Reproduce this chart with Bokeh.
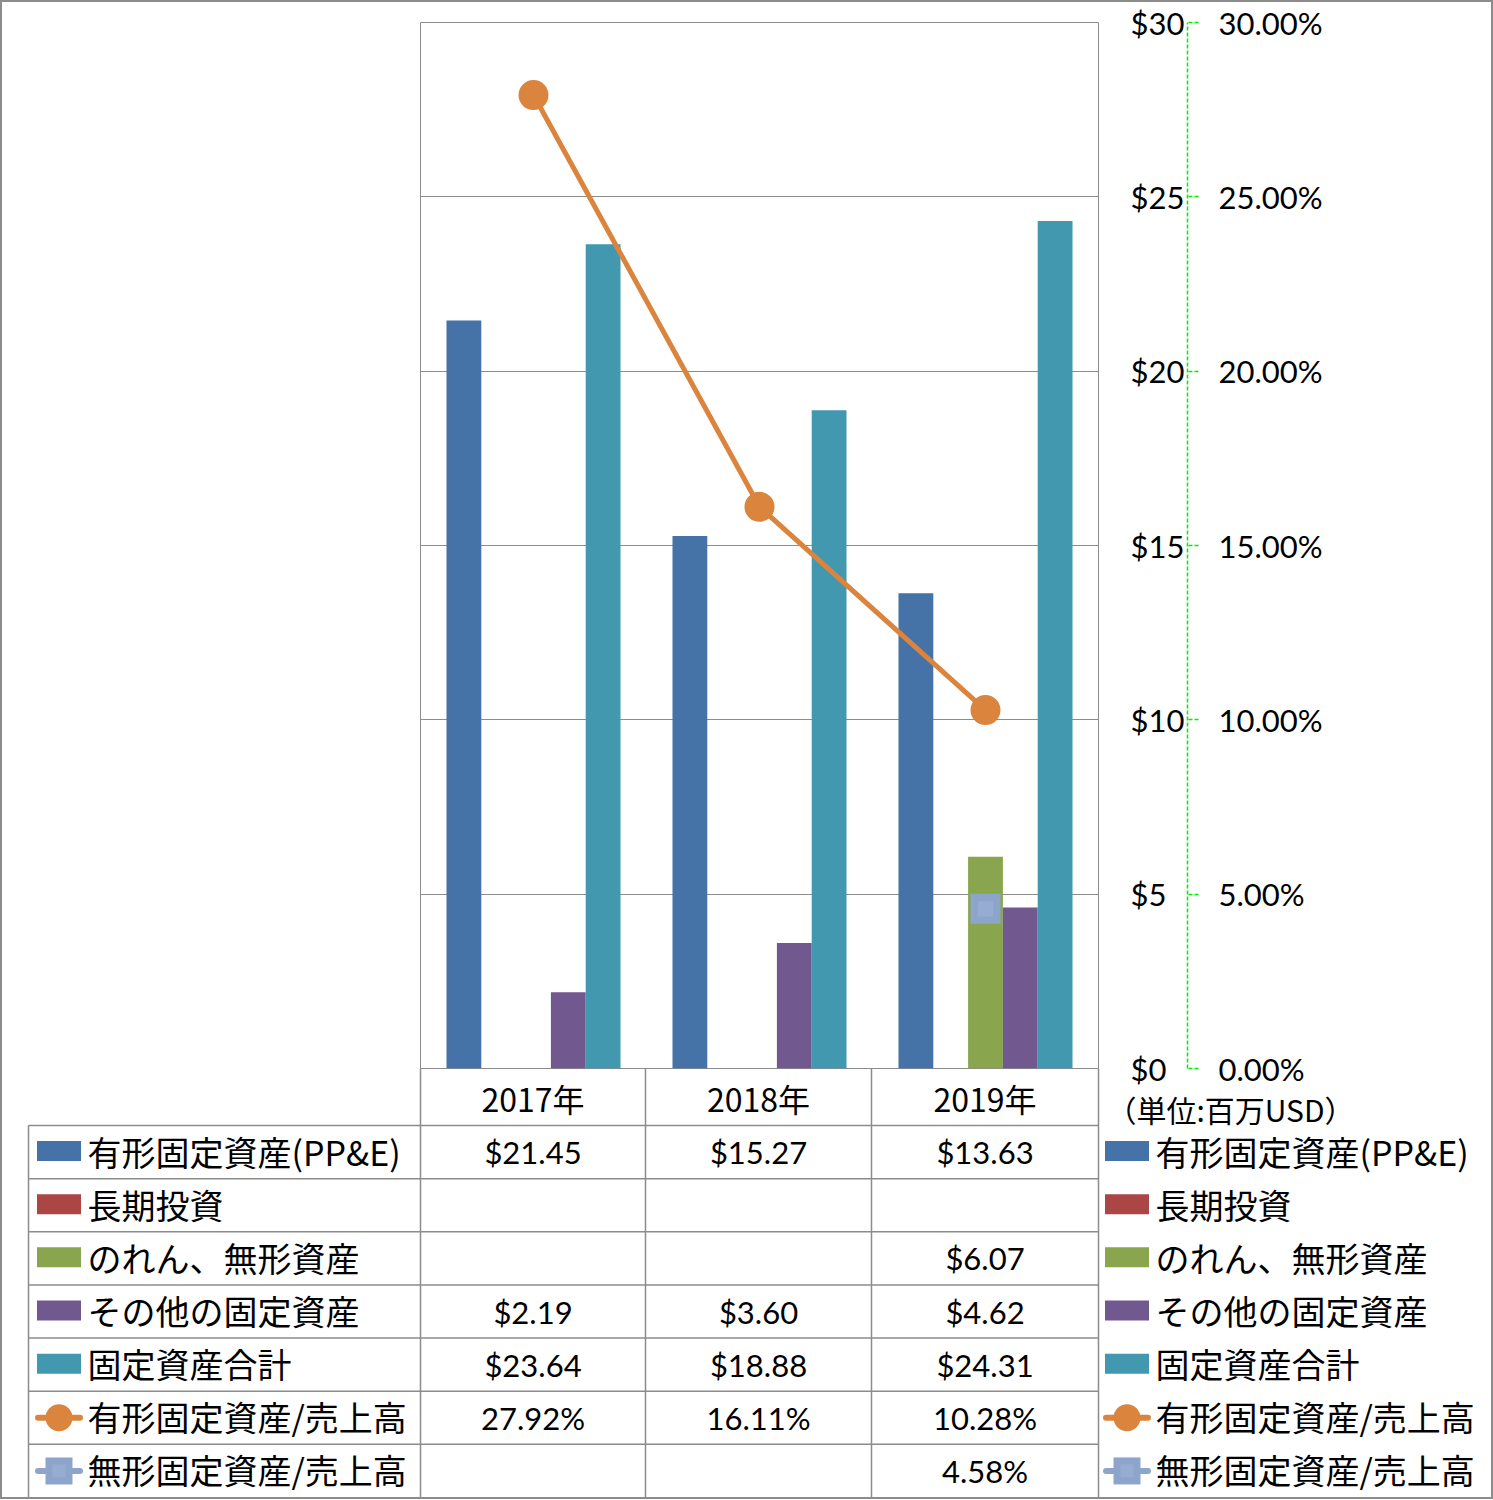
from bokeh.plotting import figure
from bokeh.models import Range1d, LinearAxis, FixedTicker, CustomJSTickFormatter, Grid
from bokeh.layouts import column, row
from bokeh.embed import file_html
from bokeh.resources import INLINE
from bokeh.core.properties import value

# ---------------- data ----------------
years = ["2017年", "2018年", "2019年"]
bar_names = ["有形固定資産(PP&E)", "長期投資", "のれん、無形資産", "その他の固定資産", "固定資産合計"]
ppe = [21.45, 15.27, 13.63]
lt_invest = [None, None, None]
goodwill = [None, None, 6.07]
other_assets = [2.19, 3.60, 4.62]
total_assets = [23.64, 18.88, 24.31]
line_names = ["有形固定資産/売上高", "無形固定資産/売上高"]
ppe_ratio = [27.92, 16.11, 10.28]      # percent
intang_ratio = [None, None, 4.58]      # percent
dollar_ticks = [0, 5, 10, 15, 20, 25, 30]
pct_ticks = [0, 5, 10, 15, 20, 25, 30]
unit_label = "（単位:百万USD）"

bar_series = [ppe, lt_invest, goodwill, other_assets, total_assets]
bar_colors = ["#4572A7", "#AA4643", "#89A54E", "#71588F", "#4198AF"]
line_color = "#DB843D"
sq_color = "#8EA5CB"
sq_inner = "#97ACD2"
GRID = "#8c8c8c"
AXGREEN = "#00ee00"
FONT = "Noto Sans CJK JP"
NUMFONT = "Lato"
FS_NUM = "31px"
FS_YEAR = "32px"
FS_LEG = "34px"

W, H = 1489, 1495


def X(r):
    return r - 2


def Y(r):
    return r - 2


frame_l, frame_r = X(420), X(1098)
frame_t, frame_b = Y(22), Y(1068)
OVER = 24   # p1 reaches this far below its frame; the table figure overlaps it

# ---------------- main chart ----------------
p1 = figure(width=W, height=frame_b + OVER, x_range=Range1d(0, 3), y_range=Range1d(0, 30),
            output_backend="svg", toolbar_location=None,
            x_axis_location=None, y_axis_location=None,
            min_border_left=frame_l, min_border_right=W - frame_r,
            min_border_top=frame_t, min_border_bottom=OVER)
p1.extra_y_ranges = {"pct": Range1d(0, 30)}
p1.xgrid.grid_line_color = None
p1.ygrid.grid_line_color = None
p1.outline_line_color = GRID
p1.outline_line_width = 1
p1.border_fill_color = "white"
p1.add_layout(Grid(dimension=1, ticker=FixedTicker(ticks=dollar_ticks), grid_line_color=GRID, grid_line_width=1))

bw = 0.154
for j, (vals, col) in enumerate(zip(bar_series, bar_colors)):
    xs, tops = [], []
    for i, v in enumerate(vals):
        if v is not None:
            xs.append(i + 0.5 + (j - 2) * bw)
            tops.append(v)
    if xs:
        p1.vbar(x=xs, top=tops, width=bw, bottom=0, fill_color=col, line_color=None)

lx = [i + 0.5 for i, v in enumerate(ppe_ratio) if v is not None]
ly = [v for v in ppe_ratio if v is not None]
p1.line(x=lx, y=ly, y_range_name="pct", line_color=line_color, line_width=5)
p1.scatter(x=lx, y=ly, y_range_name="pct", marker="circle", size=30, fill_color=line_color, line_color=None)

sx = [i + 0.5 for i, v in enumerate(intang_ratio) if v is not None]
sy = [v for v in intang_ratio if v is not None]
p1.scatter(x=sx, y=sy, y_range_name="pct", marker="square", size=30, fill_color=sq_color, line_color=None)
p1.scatter(x=sx, y=sy, y_range_name="pct", marker="square", size=15, fill_color=sq_inner, line_color=None)

ax1 = LinearAxis(ticker=FixedTicker(ticks=dollar_ticks),
                 formatter=CustomJSTickFormatter(code='return "$" + tick;'))
ax1.axis_line_color = None
ax1.major_tick_line_color = None
ax1.minor_tick_line_color = None
ax1.major_tick_out = 0
ax1.major_tick_in = 0
ax1.major_label_standoff = 32
ax1.major_label_text_font = NUMFONT
ax1.major_label_text_font_size = FS_NUM
ax1.major_label_text_color = "black"
p1.add_layout(ax1, "right")

ax2 = LinearAxis(y_range_name="pct", ticker=FixedTicker(ticks=pct_ticks),
                 formatter=CustomJSTickFormatter(code='return tick.toFixed(2) + "%";'))
ax2.axis_line_color = AXGREEN
ax2.axis_line_dash = "4 2"
ax2.axis_line_width = 1.5
ax2.major_tick_line_color = AXGREEN
ax2.major_tick_line_dash = "4 2"
ax2.major_tick_line_width = 1.5
ax2.minor_tick_line_color = None
ax2.major_tick_out = 11
ax2.major_tick_in = 0
ax2.major_label_standoff = 20
ax2.major_label_text_font = NUMFONT
ax2.major_label_text_font_size = FS_NUM
ax2.major_label_text_color = "black"
p1.add_layout(ax2, "right")

# ---------------- data table / legends ----------------
TOP, BOT = frame_b, H
p2 = figure(width=W, height=BOT - TOP, x_range=Range1d(0, W), y_range=Range1d(BOT, TOP),
            output_backend="svg", toolbar_location=None,
            x_axis_location=None, y_axis_location=None, min_border=0)
p2.xgrid.grid_line_color = None
p2.ygrid.grid_line_color = None
p2.outline_line_color = None
p2.border_fill_color = None
p2.background_fill_color = None

col_x = [X(420), X(645), X(871), X(1098)]
leg_left = X(28)
hh = Y(1125) - Y(1068)
n_rows = 7
rh = (BOT - TOP - hh) / n_rows
row_lines = [TOP + hh + k * rh for k in range(n_rows + 1)]
row_centers = [TOP + hh + (k + 0.5) * rh for k in range(n_rows)]

x0s, x1s, y0s, y1s = [], [], [], []
for y in row_lines[:-1]:
    x0s.append(leg_left); x1s.append(col_x[-1]); y0s.append(y); y1s.append(y)
for x in col_x:
    x0s.append(x); x1s.append(x); y0s.append(TOP); y1s.append(BOT)
x0s.append(leg_left); x1s.append(leg_left); y0s.append(TOP + hh); y1s.append(BOT)
p2.segment(x0=x0s, y0=y0s, x1=x1s, y1=y1s, line_color=GRID, line_width=1.5)

cell_cx = [(col_x[i] + col_x[i + 1]) / 2 for i in range(3)]
p2.text(x=cell_cx, y=[TOP + hh / 2 + 1] * 3, text=years, text_font=value(FONT), text_font_size=FS_YEAR,
        text_align="center", text_baseline="middle", text_color="black")

p2.text(x=[X(1230)], y=[Y(1108)], text=[unit_label], text_font=value(FONT), text_font_size="30px",
        text_align="center", text_baseline="middle", text_color="black")


def fmt_d(v):
    return "" if v is None else "${:.2f}".format(v)


def fmt_p(v):
    return "" if v is None else "{:.2f}%".format(v)


all_rows = [[fmt_d(v) for v in s] for s in bar_series] + \
           [[fmt_p(v) for v in ppe_ratio], [fmt_p(v) for v in intang_ratio]]
tx, ty, tt = [], [], []
for r, vals in enumerate(all_rows):
    for c, s in enumerate(vals):
        if s:
            tx.append(cell_cx[c]); ty.append(row_centers[r]); tt.append(s)
p2.text(x=tx, y=ty, text=tt, text_font=value(NUMFONT), text_font_size=FS_NUM,
        text_align="center", text_baseline="middle", text_color="black")

names = bar_names + line_names
for sw_x, txt_x in [(X(58.5), X(87)), (X(1126.5), X(1155))]:
    for r in range(5):
        p2.rect(x=[sw_x], y=[row_centers[r] - 1], width=44, height=20,
                fill_color=bar_colors[r], line_color=None)
    for r in (5, 6):
        p2.segment(x0=[sw_x - 21], x1=[sw_x + 21], y0=[row_centers[r]], y1=[row_centers[r]],
                   line_color=line_color if r == 5 else sq_color, line_width=6, line_cap="round")
    p2.scatter(x=[sw_x], y=[row_centers[5]], marker="circle", size=27,
               fill_color=line_color, line_color=None)
    p2.scatter(x=[sw_x], y=[row_centers[6]], marker="square", size=27,
               fill_color=sq_color, line_color=None)
    p2.scatter(x=[sw_x], y=[row_centers[6]], marker="square", size=13,
               fill_color=sq_inner, line_color=None)
    p2.text(x=[txt_x] * 7, y=[c - 1 for c in row_centers], text=names, text_font=value(FONT),
            text_font_size=FS_LEG, text_align="left", text_baseline="middle", text_color="black")

layout = column(row(p1), row(p2, styles={"margin-top": "-%dpx" % OVER}), spacing=0,
                styles={"border": "2px solid #8c8c8c"})

open("out.html", "w").write(file_html(layout, INLINE))
